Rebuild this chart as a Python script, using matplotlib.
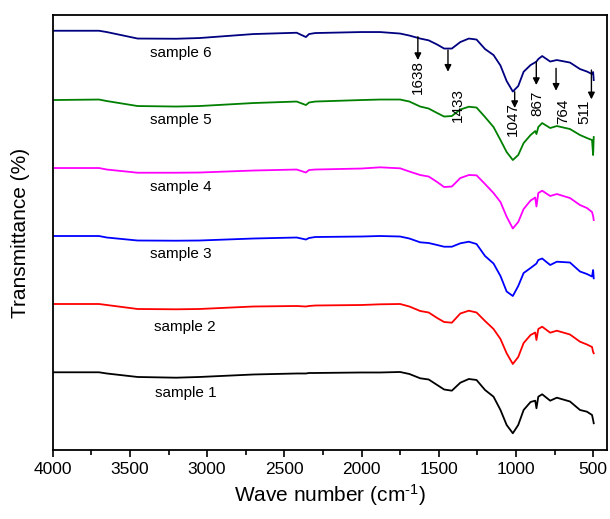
import numpy as np
import matplotlib
matplotlib.use('Agg')
import matplotlib.pyplot as plt
from matplotlib.ticker import MultipleLocator

plt.rcParams['font.family'] = ['Liberation Sans', 'DejaVu Sans']
plt.rcParams['mathtext.default'] = 'regular'

wavenumber = [4000, 3700, 3650, 3450, 3200, 3050, 2700, 2420, 2360, 2340, 2300, 2000,
              1880, 1750, 1690, 1620, 1565, 1510, 1465, 1415, 1360, 1305, 1255,
              1200, 1145, 1100, 1060, 1020, 985, 950, 905, 875, 867, 855, 830,
              778, 735, 650, 585, 540, 507, 500, 496]

# Transmittance (arbitrary units, already stacked)
sample1 = [77.7, 77.7, 76.5, 73, 72.3, 73, 75.5, 76.5, 76.5, 77, 77, 77.5,
           77.5, 78, 76, 71.7, 70.5, 65, 60.5, 59.3, 67.3, 71, 70,
           60, 53.3, 40, 25, 16.7, 25, 40, 48, 49.3, 41.7, 53.3, 55.7,
           49.3, 52.3, 48.5, 40, 38.3, 35, 30, 26.7]
sample2 = [146, 146, 145, 141, 140.7, 141, 143.5, 144, 143.5, 144, 144.5, 145,
           145.7, 146, 143.5, 139, 137.5, 132, 128, 127.3, 136.5, 139.3, 137.5,
           129, 121, 111, 96.7, 86, 93, 107, 115, 117.5, 110, 121, 123.3,
           117.3, 119.3, 115.5, 108.3, 105.5, 103, 98, 96.7]
sample3 = [214, 214, 212.5, 209.5, 209.3, 209.5, 211.5, 212.5, 210.5, 212, 213, 213.5,
           214, 213.5, 211.5, 207.7, 207, 205, 203.3, 203.3, 206.7, 208.3, 206,
           194, 186.5, 174, 158.5, 154, 164, 177, 182, 185.5, 186.5, 190, 191.5,
           185, 188.3, 187.5, 178.5, 176, 173.5, 180, 171.7]
sample4 = [282, 282, 280.5, 277.3, 277.3, 277.5, 279.5, 280.5, 277.5, 280, 280.5, 281.5,
           282.7, 281.7, 278.5, 275, 273.5, 268, 263, 263.5, 272, 275, 274.7,
           266, 257, 248, 233.3, 221.5, 228, 241, 249.5, 252.5, 243.5, 257, 259.3,
           254, 256, 252, 245, 242, 238, 234, 230]
sample5 = [350, 350.5, 349, 344, 343.5, 344, 347, 348.5, 345, 347.5, 348.5, 350,
           350.5, 350.5, 348.5, 343.5, 341.5, 337, 333.5, 334, 340.5, 343.3, 342.5,
           333, 323, 310, 298, 290, 295, 307, 315, 319, 316, 323, 327,
           322, 324, 321, 315, 312, 310, 295, 313]
sample6 = [419.3, 419.3, 418, 411.5, 411.3, 412, 416, 417.3, 413, 416, 417, 418,
           418, 416.5, 414.5, 411.5, 409.7, 405.5, 401.5, 401.5, 408, 411.5, 410.5,
           401, 395, 384.5, 369, 358.5, 364, 378.3, 385, 387.7, 388.5, 391, 394,
           388.5, 390, 387.5, 381, 378.5, 376, 378, 370]

spectra = [sample1, sample2, sample3, sample4, sample5, sample6]
names = ['sample 1', 'sample 2', 'sample 3', 'sample 4', 'sample 5', 'sample 6']
colors = ['black', '#FF0000', '#0000FF', '#FF00FF', '#008000', '#000080']
label_x = [3340, 3345, 3370, 3370, 3370, 3370]
label_y = [57.3, 122.7, 195.7, 263.3, 330, 397]

# Band assignments: arrow x, arrow start/end, label x, label y
bands = ['1638', '1433', '1047', '867', '764', '511']
band_x = [1635, 1440, 1008, 868, 740, 511]
arrow_top = [413.3, 400, 358.3, 388.3, 381.7, 380]
arrow_tip = [390, 378.3, 342, 365, 359.3, 350.7]
band_label_x = [1638, 1378, 1021, 863, 691, 556]
band_label_y = [373.5, 345.2, 330.7, 346.7, 338.3, 338.3]

fig = plt.figure(figsize=(6.1, 5.19), dpi=100)
ax = fig.add_axes([0.0864, 0.133, 0.9087, 0.838])

for y, name, c, lx, ly in zip(spectra, names, colors, label_x, label_y):
    ax.plot(wavenumber, y, color=c, lw=1.3)
    ax.text(lx, ly, name, fontsize=11, ha='left', va='center')

for b, bx, top, tip, tx, ty in zip(bands, band_x, arrow_top, arrow_tip,
                                    band_label_x, band_label_y):
    ax.annotate('', xy=(bx, tip), xytext=(bx, top),
                arrowprops=dict(arrowstyle='-|>', color='black', lw=1,
                                mutation_scale=10, shrinkA=0, shrinkB=0))
    ax.text(tx, ty, b, fontsize=11, rotation=90, ha='center', va='center')

ax.set_xlim(4000, 410)
ax.set_ylim(0, 435)
ax.xaxis.set_major_locator(MultipleLocator(500))
ax.xaxis.set_minor_locator(MultipleLocator(250))
ax.tick_params(axis='x', which='major', direction='out', length=5, width=1.2,
               labelsize=12.5, top=False)
ax.tick_params(axis='x', which='minor', direction='out', length=3.5, width=1.2,
               top=False)
ax.set_yticks([])
for s in ax.spines.values():
    s.set_linewidth(1.3)

ax.set_xlabel('Wave number (cm$^{\u20101}$)', fontsize=15, labelpad=4)
ax.set_ylabel('Transmittance (%)', fontsize=15, labelpad=16)

plt.savefig('out.png', dpi=100)
